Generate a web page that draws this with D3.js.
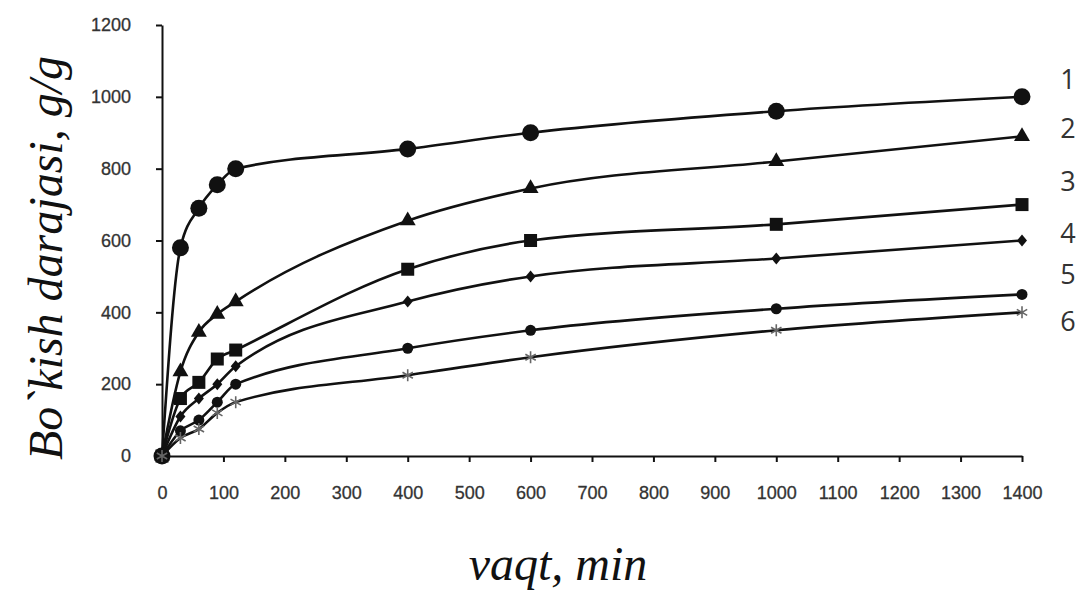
<!DOCTYPE html>
<html>
<head>
<meta charset="utf-8">
<script src="https://cdn.jsdelivr.net/npm/d3@7"></script>
<style>
  html, body { margin: 0; padding: 0; background: #fff; }
  svg { display: block; }
</style>
</head>
<body>
<svg id="chart" width="1081" height="597"></svg>
<script>
// Swelling degree (g/g) over time (min) for six samples
const times = [0, 30, 60, 90, 120, 400, 600, 1000, 1400];
const series1 = [0, 580, 690, 755, 800, 855, 900, 960, 1000];
const series2 = [0, 235, 345, 395, 430, 655, 745, 820, 890];
const series3 = [0, 160, 205, 270, 295, 520, 600, 645, 700];
const series4 = [0, 110, 160, 200, 250, 430, 500, 550, 600];
const series5 = [0, 70, 100, 150, 200, 300, 350, 410, 450];
const series6 = [0, 50, 75, 120, 150, 225, 275, 350, 400];
const seriesLabels = ["1", "2", "3", "4", "5", "6"];
const xTicks = [0, 100, 200, 300, 400, 500, 600, 700, 800, 900, 1000, 1100, 1200, 1300, 1400];
const yTicks = [0, 200, 400, 600, 800, 1000, 1200];
const xTitle = "vaqt, min";
const yTitle = "Bo`kish darajasi, g/g";

const allSeries = [series1, series2, series3, series4, series5, series6];
const markerKinds = ["bigCircle", "triangle", "square", "diamond", "circle", "star"];

const svg = d3.select("#chart");
const x = d3.scaleLinear().domain([0, 1400]).range([162, 1022]);
const y = d3.scaleLinear().domain([0, 1200]).range([456, 25]);

const ink = "#111";
const labelInk = "#333";
const plain = d3.format("d");

// Axes
const xAxis = svg.append("g").attr("transform", `translate(0,${y(0)})`)
  .call(d3.axisBottom(x).tickValues(xTicks).tickFormat(plain).tickSize(6).tickSizeOuter(0));
const yAxis = svg.append("g").attr("transform", `translate(${x(0)},0)`)
  .call(d3.axisLeft(y).tickValues(yTicks).tickFormat(plain).tickSize(6).tickSizeOuter(0).tickPadding(25));

[xAxis, yAxis].forEach(g => {
  g.select(".domain").attr("stroke", ink).attr("stroke-width", 2);
  g.selectAll(".tick line").attr("stroke", ink).attr("stroke-width", 2);
  g.selectAll(".tick text")
    .attr("fill", labelInk)
    .style("font-family", "'Liberation Sans', Arial, sans-serif")
    .style("font-size", "18px")
    .style("font-weight", "normal")
    .style("stroke", labelInk)
    .style("stroke-width", "0.3px");
});
xAxis.selectAll(".tick text").attr("dy", "0.35em").attr("y", 37);

// Lines
const line = d3.line()
  .x((d, i) => x(times[i]))
  .y(d => y(d))
  .curve(d3.curveMonotoneX);

allSeries.forEach(s => {
  svg.append("path")
    .datum(s)
    .attr("d", line)
    .attr("fill", "none")
    .attr("stroke", ink)
    .attr("stroke-width", 2.6);
});

// Markers
function drawMarker(g, kind, cx, cy) {
  if (kind === "bigCircle") {
    g.append("circle").attr("cx", cx).attr("cy", cy).attr("r", 8.5).attr("fill", ink);
  } else if (kind === "circle") {
    g.append("circle").attr("cx", cx).attr("cy", cy).attr("r", 5.5).attr("fill", ink);
  } else if (kind === "triangle") {
    g.append("path").attr("d", d3.symbol(d3.symbolTriangle, 110)())
      .attr("transform", `translate(${cx},${cy})`).attr("fill", ink);
  } else if (kind === "square") {
    g.append("rect").attr("x", cx - 6.5).attr("y", cy - 6.5)
      .attr("width", 13).attr("height", 13).attr("fill", ink);
  } else if (kind === "diamond") {
    g.append("path").attr("d", `M${cx},${cy - 6}L${cx + 5},${cy}L${cx},${cy + 6}L${cx - 5},${cy}Z`)
      .attr("fill", ink);
  } else if (kind === "star") {
    const r = 6;
    const p = [];
    for (let k = 0; k < 3; k++) {
      const a = Math.PI / 6 + k * Math.PI / 3;
      p.push(`M${cx - r * Math.cos(a)},${cy - r * Math.sin(a)}L${cx + r * Math.cos(a)},${cy + r * Math.sin(a)}`);
    }
    p.push(`M${cx},${cy - r}L${cx},${cy + r}`);
    g.append("path").attr("d", p.join("")).attr("stroke", "#666").attr("stroke-width", 1.6).attr("fill", "none");
  }
}

allSeries.forEach((s, si) => {
  const g = svg.append("g");
  s.forEach((v, i) => drawMarker(g, markerKinds[si], x(times[i]), y(v)));
});

// Series numbers on the right
const labelY = [78, 127, 180, 232, 273, 320];
seriesLabels.forEach((t, i) => {
  svg.append("text")
    .attr("x", 1068).attr("y", labelY[i])
    .attr("text-anchor", "middle").attr("dominant-baseline", "central")
    .attr("fill", "#333")
    .style("font-family", "'Open Sans', 'Liberation Sans', sans-serif")
    .style("font-size", "27px")
    .text(t);
});

// Axis titles
svg.append("text")
  .attr("transform", `translate(62,258) rotate(-90)`)
  .attr("text-anchor", "middle")
  .attr("fill", ink)
  .style("font-family", "'Liberation Serif', 'Times New Roman', serif")
  .style("font-style", "italic")
  .style("font-size", "48px")
  .text(yTitle);

svg.append("text")
  .attr("x", 558).attr("y", 580)
  .attr("text-anchor", "middle")
  .attr("fill", ink)
  .style("font-family", "'Liberation Serif', 'Times New Roman', serif")
  .style("font-style", "italic")
  .style("font-size", "48px")
  .text(xTitle);
</script>
</body>
</html>
